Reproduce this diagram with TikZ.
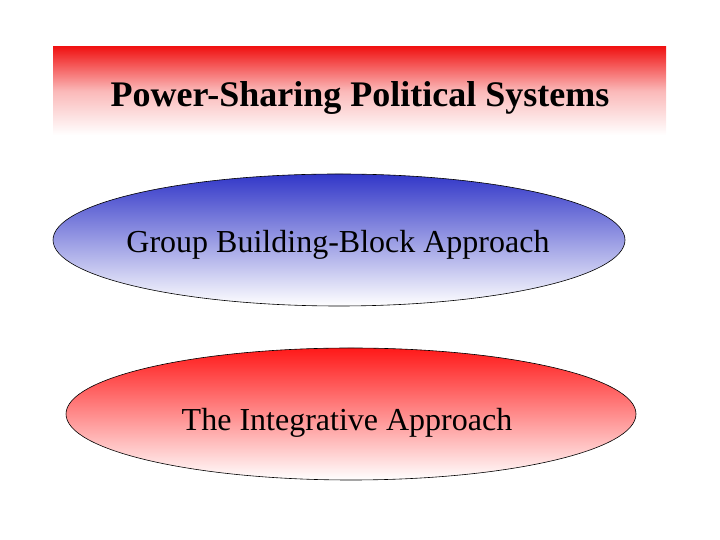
\documentclass[tikz,border=0pt]{standalone}
\usepackage{fontspec}
\setmainfont{Liberation Serif}
\usetikzlibrary{shapes.geometric}
\definecolor{tred}{RGB}{240,20,20}
\definecolor{ered}{RGB}{255,25,25}
\definecolor{eblue}{RGB}{50,55,200}
\tikzset{
  oval/.style={ellipse, draw=black, line width=0.6pt, inner sep=0pt,
    minimum width=572pt, minimum height=132pt},
  ovaltext/.style={font=\fontsize{32}{36}\selectfont, inner sep=0pt},
}
\begin{document}
\begin{tikzpicture}[x=1pt,y=1pt]
\useasboundingbox (0,0) rectangle (720,540);
\shade[top color=tred, bottom color=white, middle color=tred!30] (53,540-47) rectangle (666,540-135);
\node[font=\bfseries\fontsize{36}{40}\selectfont] (title) at (360,540-98) {Power-Sharing Political Systems};
\node[oval, top color=eblue, bottom color=white] (group) at (339,540-240) {};
\node[ovaltext] (grouptext) at (338,540-245) {Group Building-Block Approach};
\node[oval, minimum width=570pt, top color=ered, middle color=ered!45, bottom color=white] (integ) at (351,540-414) {};
\node[ovaltext] (integtext) at (347,540-423) {The Integrative Approach};
\end{tikzpicture}
\end{document}
